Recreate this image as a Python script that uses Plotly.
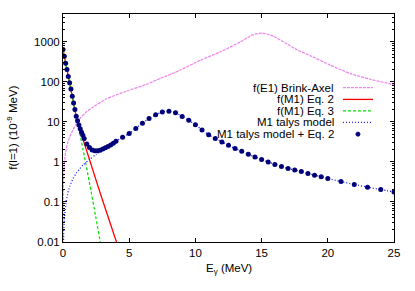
import plotly.graph_objects as go

# ---------------- data ----------------
# f(E1) Brink-Axel
e1_E = [0.001, 0.003, 0.01, 0.03, 0.06, 0.13, 0.25, 0.38, 0.5, 0.75, 1.0, 1.3, 1.7, 2.27,
        3.29, 4.8, 6.3, 7.33, 8.84, 10.36, 11.87, 13.39, 14.27, 15.03, 15.9, 16.9, 17.7,
        18.7, 20.2, 21.7, 23.2, 24.9, 25.0]
e1_f = [0.009, 0.027, 0.09, 0.27, 0.55, 1.2, 2.2, 3.2, 4.2, 6.3, 9.0, 12.5, 17.0, 23.7,
        38.0, 59.0, 87.0, 122.0, 196.0, 348.0, 562.0, 1000.0, 1480.0, 1670.0, 1390.0, 900.0, 630.0,
        450.0, 263.0, 162.0, 117.0, 87.0, 85.0]

# f(M1) Eq. 2
eq2_E = [0.0, 0.25, 0.5, 0.75, 1.0, 1.25, 1.5, 2.0, 3.0, 4.1, 4.2]
eq2_f = [646.0, 245.0, 95.5, 35.5, 13.5, 6.76, 3.80, 1.15, 0.107, 0.0087, 0.0069]

# f(M1) Eq. 3
eq3_E = [0.0, 0.5, 1.0, 1.5, 2.0, 2.5, 2.85, 2.95]
eq3_f = [646.0, 95.5, 14.1, 2.14, 0.302, 0.038, 0.0089, 0.0068]

# M1 talys model
tal_E = [0.005, 0.02, 0.05, 0.1, 0.2, 0.3, 0.5, 0.75, 1.0, 1.5, 2.0, 2.5, 3.0, 3.5, 4.0,
         4.5, 5.0, 5.5, 6.0, 6.5, 7.0, 7.5, 8.0, 8.5, 9.0, 9.5, 10.0, 10.5, 11.0, 11.5,
         12.0, 12.5, 13.0, 13.5, 14.0, 14.5, 15.0, 15.5, 16.0, 16.5, 17.0, 17.5, 18.0,
         18.5, 19.0, 19.5, 20.0, 21.0, 22.0, 23.0, 24.0, 25.0]
tal_f = [0.002, 0.0063, 0.0158, 0.0355, 0.0794, 0.132, 0.240, 0.380, 0.525, 0.832, 1.15,
         1.55, 2.0, 2.51, 3.31, 4.17, 5.13, 6.92, 9.33, 12.3, 15.1, 17.8, 18.6, 17.0, 13.8,
         11.0, 8.51, 6.31, 4.79, 3.85, 3.16, 2.63, 2.16, 1.86, 1.55, 1.33, 1.15, 1.0, 0.871,
         0.776, 0.684, 0.631, 0.575, 0.519, 0.468, 0.427, 0.389, 0.324, 0.275, 0.234, 0.204,
         0.178]

# M1 talys model + Eq. 2 (points)
sum_E = [0.0, 0.1, 0.2, 0.3, 0.4, 0.5, 0.6, 0.7, 0.8, 0.9, 1.0, 1.1, 1.2, 1.3, 1.4, 1.5,
         1.6, 1.8, 2.0, 2.2, 2.4, 2.6, 2.8, 3.0, 3.2, 3.4, 3.6, 3.8, 4.0,
         4.5, 5.0, 5.5, 6.0, 6.5, 7.0, 7.5, 8.0, 8.5, 9.0, 9.5, 10.0, 10.5, 11.0, 11.5,
         12.0, 12.5, 13.0, 13.5, 14.0, 14.5, 15.0, 15.5, 16.0, 16.5, 17.0, 17.5, 18.0,
         18.5, 19.0, 19.5, 20.0, 21.0, 22.0, 23.0, 24.0, 25.0]
sum_f = [646.0, 437.0, 295.0, 204.0, 138.0, 95.8, 66.4, 44.1, 29.9, 20.4, 14.0, 10.8,
         8.40, 6.73, 5.55, 4.63, 3.84, 2.82, 2.30, 2.0, 1.92, 1.90, 1.97, 2.11, 2.26, 2.44,
         2.65, 2.94, 3.31, 4.17, 5.13, 6.92, 9.33, 12.3, 15.1, 17.8, 18.6, 17.0, 13.8,
         11.0, 8.51, 6.31, 4.79, 3.85, 3.16, 2.63, 2.16, 1.86, 1.55, 1.33, 1.15, 1.0, 0.871,
         0.776, 0.684, 0.631, 0.575, 0.519, 0.468, 0.427, 0.389, 0.324, 0.275, 0.234, 0.204,
         0.178]

series_names = ["f(E1) Brink-Axel", "f(M1) Eq. 2", "f(M1) Eq. 3", "M1 talys model",
                "M1 talys model + Eq. 2"]

y_ticks = [0.01, 0.1, 1, 10, 100, 1000]
y_ticktext = ["0.01", "0.1", "1", "10", "100", "1000"]
x_ticks = [0, 5, 10, 15, 20, 25]

# ---------------- styling ----------------
FONT = "Liberation Sans, Arial, Helvetica, sans-serif"
C_E1 = "#ee82ee"
C_EQ2 = "#ff0000"
C_EQ3 = "#00e000"
C_TAL = "#2020ff"
C_DOT = "#00007a"

fig = go.Figure()
fig.add_trace(go.Scatter(x=e1_E, y=e1_f, mode="lines", line=dict(color=C_E1, width=1.2, dash="3px,1px", shape="spline", smoothing=0.6), name=series_names[0]))
fig.add_trace(go.Scatter(x=eq2_E, y=eq2_f, mode="lines", line=dict(color=C_EQ2, width=1.3, shape="spline", smoothing=0.4), name=series_names[1]))
fig.add_trace(go.Scatter(x=eq3_E, y=eq3_f, mode="lines", line=dict(color=C_EQ3, width=1.2, dash="3px,2px", shape="spline", smoothing=0.4), name=series_names[2]))
fig.add_trace(go.Scatter(x=tal_E, y=tal_f, mode="lines", line=dict(color=C_TAL, width=1.3, dash="1px,2px", shape="spline", smoothing=0.6), name=series_names[3]))
fig.add_trace(go.Scatter(x=sum_E, y=sum_f, mode="markers", marker=dict(color=C_DOT, size=5), name=series_names[4]))

minor_vals = [m * 10 ** d for d in range(-2, 4) for m in range(2, 10)]

fig.update_layout(
    width=415, height=291,
    margin=dict(l=63, r=21, t=14, b=49),
    paper_bgcolor="white", plot_bgcolor="white",
    showlegend=False,
    font=dict(family=FONT, size=11.5, color="black"),
    xaxis=dict(range=[0, 25], tickvals=x_ticks, ticks="inside", ticklen=4, tickcolor="black",
               showline=True, linecolor="black", linewidth=1, mirror="allticks",
               showgrid=False, zeroline=False, tickfont=dict(size=11.5)),
    yaxis=dict(type="log", range=[-2, 3.699], tickvals=y_ticks, ticktext=y_ticktext,
               ticks="inside", ticklen=4, tickcolor="black",
               showline=True, linecolor="black", linewidth=1, mirror="allticks",
               showgrid=False, zeroline=False, tickfont=dict(size=11.5),
               minor=dict(tickvals=minor_vals, ticks="inside", ticklen=2, tickcolor="black", showgrid=False)),
)

# axis titles
fig.add_annotation(text="E<sub>γ</sub> (MeV)", xref="paper", yref="paper", x=0.5, y=-0.118,
                   xanchor="center", yanchor="middle", showarrow=False, font=dict(size=11.5))
fig.add_annotation(text="f(l=1) (10<sup>-9</sup> MeV)", xref="paper", yref="paper", x=-0.155, y=0.5,
                   xanchor="center", yanchor="middle", textangle=-90, showarrow=False, font=dict(size=11.5))

# legend (gnuplot style: text right-aligned, sample at right)
PW = 330.7
PH = 227.7
def px_x(p):
    return (p - 63.3) / PW
def px_y(p):
    return (241.7 - p) / PH

rows_y = [87.5, 99.3, 110.8, 122.3, 134.0]
styles = [(C_E1, "3px,1px"), (C_EQ2, "solid"), (C_EQ3, "3px,2px"), (C_TAL, "1px,2px"), None]
for name, ry, st in zip(series_names, rows_y, styles):
    fig.add_annotation(text=name, xref="paper", yref="paper", x=px_x(336), y=px_y(ry),
                       xanchor="right", yanchor="middle", showarrow=False, font=dict(size=11.5))
    if st is not None:
        fig.add_shape(type="line", xref="paper", yref="paper", x0=px_x(343), x1=px_x(373),
                      y0=px_y(ry), y1=px_y(ry), line=dict(color=st[0], width=1.3, dash=st[1]))
    else:
        fig.add_shape(type="circle", xref="paper", yref="paper",
                      x0=px_x(356), x1=px_x(360), y0=px_y(ry + 2), y1=px_y(ry - 2),
                      fillcolor=C_DOT, line=dict(color=C_DOT, width=1))

fig.write_html("out.html", config={"displayModeBar": False},
               post_script="document.body.style.margin='0px';")
